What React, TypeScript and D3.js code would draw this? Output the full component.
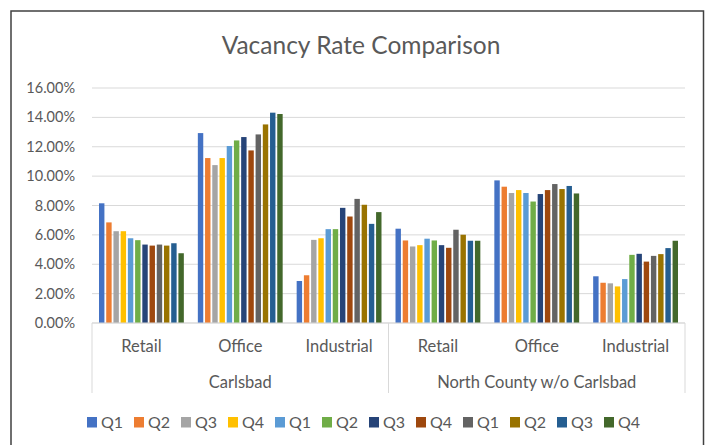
import React from "react";
import * as d3 from "d3";

const title = "Vacancy Rate Comparison";
const groups = ["Carlsbad", "North County w/o Carlsbad"];
const categories = ["Retail", "Office", "Industrial"];
const seriesNames = ["Q1", "Q2", "Q3", "Q4", "Q1", "Q2", "Q3", "Q4", "Q1", "Q2", "Q3", "Q4"];
const seriesColors = [
  "#4472C4", "#ED7D31", "#A5A5A5", "#FFC000",
  "#5B9BD5", "#70AD47", "#264478", "#9E480E",
  "#636363", "#997300", "#255E91", "#43682B",
];
// values (%) per category column: Carlsbad Retail, Office, Industrial, NC Retail, Office, Industrial
const carlsbadRetail = [8.15, 6.85, 6.25, 6.25, 5.77, 5.64, 5.34, 5.27, 5.34, 5.27, 5.43, 4.75];
const carlsbadOffice = [12.93, 11.23, 10.75, 11.23, 12.05, 12.43, 12.66, 11.75, 12.84, 13.52, 14.32, 14.23];
const carlsbadIndustrial = [2.86, 3.25, 5.66, 5.77, 6.39, 6.39, 7.84, 7.25, 8.45, 8.05, 6.75, 7.55];
const ncRetail = [6.42, 5.62, 5.21, 5.3, 5.74, 5.62, 5.3, 5.12, 6.35, 6.01, 5.6, 5.6];
const ncOffice = [9.71, 9.28, 8.85, 9.05, 8.85, 8.27, 8.78, 9.05, 9.46, 9.12, 9.33, 8.82];
const ncIndustrial = [3.18, 2.74, 2.7, 2.49, 2.99, 4.64, 4.71, 4.18, 4.57, 4.69, 5.1, 5.6];
const yTicks = [0, 2, 4, 6, 8, 10, 12, 14, 16];

const columns = [
  { group: 0, cat: 0, values: carlsbadRetail },
  { group: 0, cat: 1, values: carlsbadOffice },
  { group: 0, cat: 2, values: carlsbadIndustrial },
  { group: 1, cat: 0, values: ncRetail },
  { group: 1, cat: 1, values: ncOffice },
  { group: 1, cat: 2, values: ncIndustrial },
];

const FONT = "Lato, 'Open Sans', sans-serif";
const TEXT = "#595959";

export default function App() {
  const W = 709, H = 445;
  const left = 92, right = 685, top = 88, bottom = 323;
  const y = d3.scaleLinear().domain([0, 16]).range([bottom, top]);
  const x0 = d3.scaleBand<number>().domain(d3.range(columns.length)).range([left, right]).padding(0);
  const x1 = d3.scaleBand<number>()
    .domain(d3.range(seriesNames.length))
    .range([0, x0.bandwidth()])
    .paddingInner(0.25)
    .paddingOuter(0.97);
  const groupWidth = x0.bandwidth() * categories.length;

  return (
    <svg width={W} height={H} style={{ position: "absolute", left: 0, top: 0, background: "#fff" }}>
      <rect x={0} y={0} width={W} height={H} fill="#fff" />
      <rect x={11} y={11} width={692.5} height={H + 20} fill="none" stroke="#404040" strokeWidth={1.5} />
      <text x={361} y={54} textAnchor="middle" fontFamily={FONT} fontSize={24.5} fill={TEXT}>{title}</text>
      {yTicks.map((t) => (
        <g key={t}>
          <line x1={left} x2={right} y1={y(t)} y2={y(t)} stroke="#D9D9D9" strokeWidth={1} />
          <text x={75} y={y(t) + 5} textAnchor="end" fontFamily={FONT} fontSize={14.5} fill={TEXT}>
            {t.toFixed(2)}%
          </text>
        </g>
      ))}
      {columns.map((c, ci) => (
        <g key={ci} transform={`translate(${x0(ci)},0)`}>
          {c.values.map((v, si) => (
            <rect
              key={si}
              x={x1(si)}
              y={y(v)}
              width={x1.bandwidth()}
              height={y(0) - y(v)}
              fill={seriesColors[si]}
            />
          ))}
        </g>
      ))}
      <line x1={left} x2={right} y1={bottom} y2={bottom} stroke="#D9D9D9" strokeWidth={1} />
      {columns.map((c, ci) => (
        <text key={ci} x={(x0(ci) as number) + x0.bandwidth() / 2} y={352} textAnchor="middle"
          fontFamily={FONT} fontSize={16.5} fill={TEXT}>
          {categories[c.cat]}
        </text>
      ))}
      {d3.range(groups.length + 1).map((g) => (
        <line key={g} x1={left + g * groupWidth} x2={left + g * groupWidth} y1={bottom} y2={393}
          stroke="#D9D9D9" strokeWidth={1} />
      ))}
      {groups.map((g, gi) => (
        <text key={gi} x={left + gi * groupWidth + groupWidth / 2} y={388} textAnchor="middle"
          fontFamily={FONT} fontSize={16.5} fill={TEXT}>
          {g}
        </text>
      ))}
      {seriesNames.map((s, i) => (
        <g key={i} transform={`translate(${87 + i * 47},0)`}>
          <rect x={0} y={417} width={10} height={10.5} fill={seriesColors[i]} />
          <text x={14} y={428} fontFamily={FONT} fontSize={16} fill={TEXT}>{s}</text>
        </g>
      ))}
    </svg>
  );
}
